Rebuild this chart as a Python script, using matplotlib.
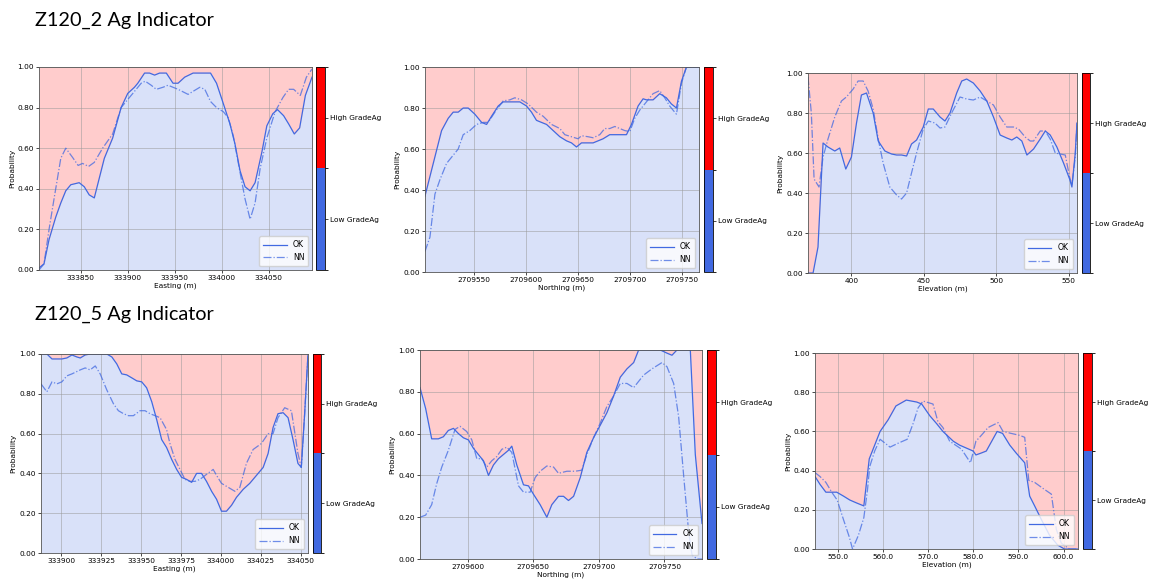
import matplotlib
matplotlib.use("Agg")
import matplotlib.pyplot as plt
import numpy as np
from matplotlib.colors import ListedColormap, BoundaryNorm
from matplotlib.cm import ScalarMappable
from matplotlib.ticker import MultipleLocator, FormatStrFormatter

# ---- Z120_2 : Easting ----
e2_ok_x = [333805.4, 333810.7, 333816.1, 333823.2, 333828.6, 333833.9, 333839.3, 333848.2, 333853.6,
           333858.9, 333864.3, 333875.0, 333883.9, 333892.9, 333900.0, 333907.1, 333910.7, 333917.9,
           333923.2, 333928.6, 333933.9, 333941.1, 333948.2, 333953.6, 333960.7, 333969.6, 333976.8,
           333988.2, 333994.6, 334001.8, 334008.9, 334014.3, 334019.6, 334025.0, 334030.4, 334035.7,
           334042.9, 334048.2, 334054.6, 334059.6, 334066.1, 334071.4, 334077.5, 334083.2, 334089.3,
           334096.4]
e2_ok = [0.01, 0.03, 0.15, 0.26, 0.33, 0.39, 0.42, 0.43, 0.41, 0.37, 0.355, 0.55, 0.65, 0.80, 0.87,
         0.90, 0.92, 0.97, 0.97, 0.96, 0.97, 0.97, 0.92, 0.92, 0.95, 0.97, 0.97, 0.97, 0.92, 0.82,
         0.72, 0.62, 0.49, 0.41, 0.39, 0.43, 0.58, 0.71, 0.77, 0.79, 0.76, 0.72, 0.67, 0.70, 0.86, 0.95]
e2_nn_x = [333805.4, 333810.7, 333816.1, 333821.4, 333828.6, 333833.9, 333841.1, 333847.1, 333851.8,
           333858.2, 333864.3, 333873.2, 333883.9, 333892.9, 333900.0, 333905.4, 333914.3, 333918.6,
           333925.0, 333930.4, 333937.5, 333942.9, 333953.6, 333964.3, 333969.6, 333976.8, 333982.1,
           333988.2, 333994.6, 334001.8, 334007.1, 334012.5, 334018.9, 334025.0, 334030.4, 334035.7,
           334041.1, 334048.2, 334057.1, 334065.4, 334071.4, 334076.8, 334083.9, 334090.4, 334096.4]
e2_nn = [0.0, 0.03, 0.20, 0.35, 0.55, 0.60, 0.555, 0.515, 0.525, 0.51, 0.53, 0.60, 0.67, 0.80, 0.84,
         0.87, 0.92, 0.93, 0.91, 0.89, 0.90, 0.91, 0.89, 0.865, 0.88, 0.90, 0.89, 0.83, 0.80, 0.78,
         0.75, 0.66, 0.50, 0.35, 0.25, 0.33, 0.50, 0.65, 0.78, 0.85, 0.89, 0.89, 0.86, 0.95, 0.99]

# ---- Z120_2 : Northing ----
n2_ok_x = [2709502.6, 2709510.6, 2709518.6, 2709525.0, 2709529.8, 2709534.6, 2709539.4, 2709544.2,
           2709550.6, 2709557.1, 2709561.9, 2709566.7, 2709573.1, 2709577.9, 2709587.5, 2709593.9,
           2709600.3, 2709605.1, 2709609.9, 2709614.7, 2709619.6, 2709626.0, 2709632.4, 2709638.8,
           2709643.6, 2709648.4, 2709653.2, 2709658.0, 2709664.4, 2709674.0, 2709680.4, 2709690.1,
           2709696.5, 2709701.3, 2709707.7, 2709712.5, 2709715.7, 2709722.1, 2709728.5, 2709734.9,
           2709739.7, 2709744.6, 2709749.4, 2709754.2, 2709766.3]
n2_ok = [0.37, 0.53, 0.69, 0.75, 0.78, 0.78, 0.80, 0.80, 0.77, 0.73, 0.72, 0.76, 0.81, 0.83, 0.83,
         0.83, 0.81, 0.78, 0.74, 0.73, 0.72, 0.69, 0.66, 0.64, 0.63, 0.61, 0.63, 0.63, 0.63, 0.65,
         0.67, 0.67, 0.67, 0.72, 0.81, 0.845, 0.84, 0.84, 0.87, 0.85, 0.82, 0.80, 0.93, 1.0, 1.0]
n2_nn_x = [2709502.6, 2709507.4, 2709512.2, 2709517.0, 2709523.4, 2709529.8, 2709534.6, 2709539.4,
           2709545.8, 2709552.2, 2709558.7, 2709563.5, 2709569.9, 2709577.9, 2709584.3, 2709589.1,
           2709595.5, 2709601.9, 2709609.9, 2709616.3, 2709624.4, 2709632.4, 2709637.2, 2709643.6,
           2709650.0, 2709653.2, 2709659.6, 2709664.4, 2709670.8, 2709675.6, 2709680.4, 2709685.3,
           2709690.1, 2709694.9, 2709699.7, 2709704.5, 2709709.3, 2709715.7, 2709722.1, 2709728.5,
           2709733.3, 2709738.1, 2709742.9, 2709744.6, 2709749.4, 2709754.2, 2709766.3]
n2_nn = [0.10, 0.17, 0.38, 0.45, 0.53, 0.57, 0.60, 0.67, 0.69, 0.72, 0.73, 0.73, 0.78, 0.835, 0.84,
         0.85, 0.84, 0.82, 0.78, 0.76, 0.72, 0.70, 0.67, 0.66, 0.65, 0.665, 0.66, 0.655, 0.67, 0.70,
         0.70, 0.71, 0.70, 0.69, 0.685, 0.75, 0.79, 0.83, 0.87, 0.885, 0.85, 0.81, 0.78, 0.77, 0.92,
         1.0, 1.0]

# ---- Z120_2 : Elevation ----
z2_ok_x = [370.0, 373.5, 376.9, 380.4, 383.8, 388.5, 391.9, 396.1, 400.0, 403.5, 406.9, 410.4, 415.0,
           418.5, 423.1, 427.7, 431.2, 434.6, 438.1, 441.5, 445.0, 449.6, 453.1, 456.5, 461.2, 464.6,
           468.1, 472.7, 476.2, 479.6, 484.2, 488.9, 493.5, 498.1, 502.7, 507.3, 510.8, 514.2, 517.7,
           521.2, 525.8, 530.4, 533.9, 537.3, 541.9, 546.5, 550.7, 552.3, 554.6, 555.8]
z2_ok = [0.0, 0.0, 0.13, 0.65, 0.63, 0.61, 0.625, 0.52, 0.58, 0.75, 0.89, 0.90, 0.80, 0.66, 0.61,
         0.595, 0.59, 0.59, 0.585, 0.645, 0.665, 0.73, 0.82, 0.82, 0.78, 0.76, 0.80, 0.90, 0.96, 0.97,
         0.95, 0.91, 0.86, 0.78, 0.69, 0.675, 0.665, 0.68, 0.66, 0.59, 0.62, 0.67, 0.71, 0.69, 0.63,
         0.55, 0.47, 0.43, 0.60, 0.75]
z2_nn_x = [370.0, 372.3, 374.2, 377.6, 380.4, 383.8, 388.5, 393.1, 396.5, 401.2, 404.6, 408.1, 411.5,
           415.0, 418.5, 421.9, 426.5, 431.2, 434.6, 438.1, 441.5, 445.0, 449.6, 453.1, 457.7, 461.2,
           464.6, 469.2, 475.0, 479.6, 484.2, 488.9, 493.5, 498.1, 502.7, 507.3, 511.9, 515.4, 520.0,
           523.5, 525.8, 530.4, 533.9, 537.3, 540.8, 544.2, 547.7, 550.7, 552.3, 554.6, 555.8]
z2_nn = [0.98, 0.80, 0.47, 0.43, 0.58, 0.67, 0.78, 0.86, 0.88, 0.92, 0.96, 0.96, 0.91, 0.82, 0.67,
         0.55, 0.43, 0.39, 0.37, 0.40, 0.50, 0.60, 0.72, 0.76, 0.75, 0.725, 0.73, 0.80, 0.88, 0.87,
         0.865, 0.88, 0.86, 0.84, 0.78, 0.73, 0.73, 0.72, 0.68, 0.66, 0.66, 0.71, 0.71, 0.67, 0.60,
         0.595, 0.59, 0.48, 0.44, 0.58, 0.75]

# ---- Z120_5 : Easting ----
e5_ok_x = [333887.3, 333891.0, 333894.2, 333897.3, 333900.4, 333903.5, 333906.7, 333909.8, 333911.9,
           333915.0, 333918.1, 333928.5, 333931.7, 333934.8, 333937.9, 333941.0, 333944.2, 333947.3,
           333950.4, 333953.5, 333956.7, 333959.8, 333962.9, 333966.0, 333969.2, 333972.3, 333975.4,
           333978.5, 333981.7, 333984.8, 333987.9, 333991.0, 333994.2, 333997.3, 334000.4, 334003.5,
           334006.7, 334009.8, 334014.0, 334018.1, 334022.3, 334026.5, 334029.6, 334032.7, 334035.8,
           334039.0, 334042.1, 334045.2, 334048.3, 334050.4, 334052.5, 334054.6]
e5_ok = [1.0, 1.0, 0.975, 0.975, 0.975, 0.98, 0.995, 0.985, 0.98, 0.995, 1.0, 1.0, 0.985, 0.95, 0.90,
         0.895, 0.88, 0.865, 0.86, 0.83, 0.76, 0.67, 0.57, 0.53, 0.47, 0.42, 0.38, 0.37, 0.355, 0.40,
         0.40, 0.36, 0.31, 0.27, 0.21, 0.21, 0.24, 0.28, 0.32, 0.35, 0.39, 0.43, 0.50, 0.63, 0.70,
         0.705, 0.68, 0.57, 0.45, 0.43, 0.70, 1.0]
e5_nn_x = [333887.3, 333891.0, 333894.2, 333897.3, 333900.4, 333903.5, 333906.7, 333911.9, 333915.0,
           333918.1, 333921.3, 333924.4, 333928.5, 333932.7, 333935.8, 333939.0, 333942.1, 333945.2,
           333949.4, 333952.5, 333955.6, 333958.8, 333961.9, 333966.0, 333968.1, 333971.3, 333974.4,
           333977.5, 333980.6, 333983.8, 333986.9, 333991.0, 333995.2, 333997.3, 334000.4, 334004.6,
           334008.8, 334011.9, 334016.0, 334020.2, 334025.4, 334029.6, 334032.7, 334035.8, 334040.0,
           334044.2, 334048.3, 334050.4, 334052.5, 334054.6]
e5_nn = [0.85, 0.81, 0.86, 0.85, 0.86, 0.89, 0.90, 0.92, 0.93, 0.92, 0.94, 0.90, 0.82, 0.75, 0.715,
         0.70, 0.69, 0.69, 0.715, 0.715, 0.70, 0.69, 0.68, 0.62, 0.55, 0.47, 0.42, 0.37, 0.36, 0.36,
         0.37, 0.395, 0.42, 0.39, 0.35, 0.33, 0.31, 0.33, 0.45, 0.52, 0.55, 0.60, 0.60, 0.68, 0.73,
         0.715, 0.50, 0.43, 0.70, 1.0]

# ---- Z120_5 : Northing ----
n5_ok_x = [2709563.6, 2709567.9, 2709572.5, 2709577.6, 2709581.4, 2709585.2, 2709589.1, 2709592.9,
           2709596.7, 2709600.5, 2709604.3, 2709608.1, 2709612.0, 2709615.8, 2709619.6, 2709623.4,
           2709627.2, 2709631.0, 2709633.6, 2709637.4, 2709642.5, 2709646.3, 2709650.1, 2709655.2,
           2709660.3, 2709664.1, 2709669.2, 2709673.0, 2709676.8, 2709680.7, 2709685.8, 2709690.8,
           2709695.9, 2709701.0, 2709706.1, 2709711.2, 2709716.3, 2709721.4, 2709726.5, 2709730.3,
           2709741.7, 2709746.8, 2709751.9, 2709755.7, 2709759.5, 2709769.7, 2709773.5, 2709778.6]
n5_ok = [0.82, 0.72, 0.575, 0.575, 0.585, 0.615, 0.625, 0.60, 0.58, 0.57, 0.53, 0.50, 0.47, 0.40,
         0.45, 0.48, 0.50, 0.52, 0.54, 0.45, 0.355, 0.35, 0.31, 0.26, 0.20, 0.26, 0.30, 0.30, 0.28,
         0.30, 0.39, 0.51, 0.58, 0.64, 0.70, 0.78, 0.87, 0.91, 0.94, 1.0, 1.0, 1.0, 0.985, 0.975, 1.0,
         1.0, 0.50, 0.17]
n5_nn_x = [2709563.6, 2709567.9, 2709572.5, 2709576.3, 2709580.2, 2709585.2, 2709590.3, 2709594.1,
           2709599.2, 2709603.1, 2709606.9, 2709610.7, 2709614.5, 2709618.3, 2709622.1, 2709626.0,
           2709629.8, 2709633.6, 2709638.7, 2709642.5, 2709647.6, 2709651.4, 2709655.2, 2709660.3,
           2709665.4, 2709669.2, 2709675.6, 2709681.9, 2709687.0, 2709690.8, 2709695.9, 2709701.0,
           2709706.1, 2709711.2, 2709716.3, 2709721.4, 2709726.5, 2709734.1, 2709740.5, 2709748.1,
           2709751.9, 2709757.0, 2709760.8, 2709764.6, 2709768.4, 2709771.0, 2709774.8, 2709778.6]
n5_nn = [0.20, 0.21, 0.26, 0.36, 0.44, 0.52, 0.62, 0.635, 0.61, 0.57, 0.48, 0.48, 0.44, 0.47, 0.49,
         0.525, 0.535, 0.51, 0.35, 0.32, 0.32, 0.39, 0.42, 0.445, 0.44, 0.41, 0.42, 0.42, 0.425, 0.50,
         0.58, 0.65, 0.73, 0.78, 0.84, 0.84, 0.82, 0.88, 0.91, 0.94, 0.92, 0.84, 0.68, 0.40, 0.13,
         0.02, 0.0, 0.0]

# ---- Z120_5 : Elevation ----
z5_ok_x = [545.0, 546.1, 547.4, 548.7, 549.8, 551.3, 552.7, 554.2, 555.8, 557.0, 558.2, 559.4, 561.2,
           562.9, 565.2, 567.5, 568.6, 570.4, 571.9, 573.3, 575.6, 577.0, 580.0, 580.6, 581.8, 582.9,
           585.3, 586.5, 588.1, 589.5, 591.4, 592.5, 593.6, 595.1, 596.9, 598.7, 600.2, 603.2]
z5_ok = [0.37, 0.33, 0.29, 0.29, 0.29, 0.27, 0.25, 0.235, 0.22, 0.46, 0.53, 0.60, 0.66, 0.73, 0.76,
         0.75, 0.74, 0.68, 0.64, 0.60, 0.55, 0.53, 0.50, 0.48, 0.49, 0.50, 0.60, 0.59, 0.53, 0.49,
         0.44, 0.27, 0.22, 0.15, 0.07, 0.02, 0.0, 0.0]
z5_nn_x = [545.0, 546.1, 547.4, 548.7, 549.9, 551.3, 552.6, 553.3, 554.6, 555.8, 556.6, 557.1, 558.2,
           559.4, 561.6, 563.4, 565.4, 566.7, 567.8, 568.9, 571.1, 572.2, 573.3, 574.8, 577.4, 579.4,
           580.6, 581.8, 583.3, 585.5, 586.6, 588.4, 590.3, 591.4, 592.3, 593.6, 595.4, 597.3, 598.4,
           599.5, 601.3, 603.2]
z5_nn = [0.39, 0.37, 0.34, 0.29, 0.25, 0.15, 0.06, 0.0, 0.07, 0.16, 0.30, 0.42, 0.50, 0.56, 0.52,
         0.54, 0.56, 0.64, 0.72, 0.755, 0.74, 0.65, 0.62, 0.55, 0.51, 0.44, 0.55, 0.58, 0.62, 0.645,
         0.60, 0.59, 0.58, 0.57, 0.35, 0.34, 0.31, 0.28, 0.10, 0.03, 0.0, 0.0]

titles = ["Z120_2 Ag Indicator", "Z120_5 Ag Indicator"]
class_labels = ["Low GradeAg", "High GradeAg"]

FS = 5.3
plt.rcParams["font.size"] = FS

fig = plt.figure(figsize=(11.51, 5.85), dpi=100)


def panel(rect, crect, xo, yo, xn, yn, xlabel, step, fmt):
    ax = fig.add_axes(rect)
    ax.fill_between(xo, yo, 0, color="royalblue", alpha=0.2, lw=0)
    ax.fill_between(xo, yo, 1, color="red", alpha=0.2, lw=0)
    ax.plot(xo, yo, color="royalblue", lw=0.9, label="OK")
    ax.plot(xn, yn, color="royalblue", lw=0.9, ls="-.", alpha=0.75, label="NN")
    ax.set_xlim(min(xo), max(xo))
    ax.set_ylim(0, 1)
    ax.xaxis.set_major_locator(MultipleLocator(step))
    ax.xaxis.set_major_formatter(FormatStrFormatter(fmt))
    ax.yaxis.set_major_locator(MultipleLocator(0.2))
    ax.yaxis.set_major_formatter(FormatStrFormatter("%.2f"))
    ax.grid(True, color="#999999", lw=0.6, alpha=0.6)
    ax.tick_params(labelsize=FS, length=2, width=0.5, pad=1.5)
    for s in ax.spines.values():
        s.set_linewidth(0.6)
        s.set_color("#555555")
    ax.set_xlabel(xlabel, fontsize=FS, labelpad=1)
    ax.set_ylabel("Probability", fontsize=FS, labelpad=2)
    ax.legend(loc="lower right", fontsize=FS + 0.3, handlelength=3, borderpad=0.5, labelspacing=0.5)

    cax = fig.add_axes(crect)
    cmap = ListedColormap(["royalblue", "red"])
    norm = BoundaryNorm([0, 0.5, 1], cmap.N)
    cb = fig.colorbar(ScalarMappable(norm=norm, cmap=cmap), cax=cax, ticks=[0.25, 0.75])
    cb.ax.set_yticklabels(class_labels)
    cb.ax.tick_params(labelsize=FS, length=2, width=0.5, pad=1.5)
    cb.outline.set_linewidth(0.6)
    return ax


# top row (Z120_2)
panel([0.0339, 0.5385, 0.2372, 0.347], [0.2745, 0.5385, 0.0078, 0.347],
      e2_ok_x, e2_ok, e2_nn_x, e2_nn, "Easting (m)", 50, "%d")
panel([0.3692, 0.535, 0.2381, 0.3504], [0.6116, 0.535, 0.0078, 0.3504],
      n2_ok_x, n2_ok, n2_nn_x, n2_nn, "Northing (m)", 50, "%d")
panel([0.702, 0.5333, 0.2337, 0.3419], [0.940, 0.5333, 0.0072, 0.3419],
      z2_ok_x, z2_ok, z2_nn_x, z2_nn, "Elevation (m)", 50, "%d")

# bottom row (Z120_5)
panel([0.0356, 0.0547, 0.232, 0.3402], [0.272, 0.0547, 0.0072, 0.3402],
      e5_ok_x, e5_ok, e5_nn_x, e5_nn, "Easting (m)", 25, "%d")
panel([0.3649, 0.0444, 0.245, 0.3573], [0.6143, 0.0444, 0.0078, 0.3573],
      n5_ok_x, n5_ok, n5_nn_x, n5_nn, "Northing (m)", 50, "%d")
panel([0.7081, 0.0615, 0.2285, 0.335], [0.9409, 0.0615, 0.0078, 0.335],
      z5_ok_x, z5_ok, z5_nn_x, z5_nn, "Elevation (m)", 10, "%.1f")

fig.text(35 / 1151, 1 - 20 / 585, titles[0], fontsize=14.3, family="Lato", va="center", ha="left")
fig.text(35 / 1151, 1 - 314 / 585, titles[1], fontsize=14.3, family="Lato", va="center", ha="left")

fig.savefig("out.png", dpi=100)
